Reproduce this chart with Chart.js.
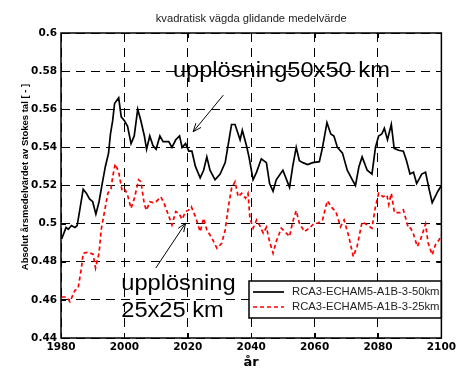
<!DOCTYPE html>
<html>
<head>
<meta charset="utf-8">
<script src="https://cdn.jsdelivr.net/npm/chart.js@4/dist/chart.umd.min.js"></script>
<style>
  html, body { margin: 0; padding: 0; background: #fff; }
  #wrap { width: 459px; height: 369px; }
</style>
</head>
<body>
<div id="wrap"><canvas id="myChart" width="459" height="369"></canvas></div>
<script>
// data
const years50 = [1980.2,1981.6,1982.3,1983.3,1984.4,1985.1,1985.9,1987.0,1988.0,1989.0,1990.0,1991.0,1992.0,1993.0,1994.0,1995.0,1995.6,1996.3,1996.9,1998.2,1999.0,2000.0,2001.0,2002.1,2003.1,2004.2,2005.2,2006.3,2007.0,2008.0,2009.0,2010.0,2011.2,2012.2,2014.0,2015.0,2016.2,2017.4,2018.2,2019.3,2020.3,2021.3,2022.4,2023.9,2025.0,2026.0,2027.0,2028.6,2030.2,2031.8,2032.8,2033.8,2034.9,2036.5,2037.2,2038.5,2039.3,2040.6,2041.7,2043.2,2044.8,2045.8,2046.9,2047.9,2050.0,2052.1,2053.1,2054.2,2055.2,2056.3,2057.8,2059.4,2061.5,2062.5,2063.9,2065.1,2066.1,2067.2,2068.8,2070.3,2071.9,2072.9,2074.0,2075.0,2076.6,2078.1,2079.2,2080.2,2081.2,2082.0,2083.0,2084.2,2085.1,2086.5,2088.0,2089.0,2090.1,2091.2,2092.2,2093.8,2095.0,2096.0,2097.1,2098.9,2100.0];
const values50 = [0.492,0.498,0.497,0.499,0.498,0.499,0.507,0.518,0.516,0.513,0.5115,0.505,0.5115,0.521,0.530,0.537,0.547,0.554,0.563,0.566,0.556,0.554,0.551,0.542,0.546,0.560,0.554,0.546,0.539,0.546,0.541,0.539,0.546,0.543,0.543,0.540,0.544,0.546,0.540,0.542,0.538,0.538,0.530,0.524,0.528,0.535,0.528,0.523,0.526,0.532,0.542,0.552,0.552,0.544,0.549,0.541,0.535,0.523,0.527,0.534,0.532,0.521,0.517,0.523,0.528,0.519,0.530,0.540,0.533,0.532,0.531,0.532,0.5325,0.540,0.553,0.547,0.546,0.540,0.537,0.528,0.523,0.520,0.530,0.535,0.528,0.526,0.540,0.546,0.547,0.550,0.544,0.552,0.5395,0.5385,0.538,0.533,0.526,0.527,0.521,0.526,0.527,0.519,0.511,0.517,0.520];

const years25 = [1980.2,1981.8,1982.8,1984.4,1985.4,1986.5,1987.0,1988.5,1990.1,1990.9,1992.0,1992.7,1993.8,1994.8,1995.8,1996.3,1997.1,1998.2,1999.3,2000.3,2001.0,2002.1,2003.1,2004.5,2005.2,2006.3,2007.0,2008.0,2009.0,2010.0,2011.5,2012.5,2013.5,2015.0,2016.2,2017.2,2018.2,2019.3,2020.3,2021.1,2022.4,2023.9,2025.0,2026.0,2027.6,2029.2,2030.7,2031.8,2032.8,2033.8,2034.9,2035.9,2037.0,2038.2,2039.0,2039.6,2040.6,2041.7,2042.7,2043.8,2044.8,2045.8,2046.9,2047.9,2049.5,2050.5,2052.1,2053.1,2054.2,2055.2,2056.8,2058.3,2059.9,2061.0,2062.5,2064.0,2065.6,2066.7,2068.2,2069.3,2070.8,2072.2,2073.4,2075.0,2076.6,2078.1,2079.2,2080.2,2081.6,2082.8,2083.4,2084.2,2085.2,2087.0,2088.0,2089.6,2090.3,2091.1,2092.4,2093.4,2095.0,2095.8,2097.1,2098.1,2099.3,2100.0];
const values25 = [0.4615,0.4615,0.459,0.465,0.466,0.4775,0.4845,0.485,0.484,0.4767,0.4845,0.497,0.507,0.516,0.5185,0.5246,0.5313,0.527,0.517,0.5176,0.515,0.508,0.513,0.523,0.522,0.510,0.507,0.5115,0.511,0.5115,0.514,0.5107,0.5063,0.4993,0.5063,0.5054,0.5023,0.5063,0.5072,0.5089,0.5037,0.4958,0.5028,0.4967,0.4924,0.4871,0.4897,0.4967,0.5089,0.5185,0.522,0.5141,0.5159,0.5133,0.5159,0.5028,0.4976,0.5019,0.499,0.495,0.4981,0.4906,0.4845,0.4906,0.4976,0.496,0.4932,0.501,0.5068,0.5002,0.4958,0.4976,0.5002,0.5002,0.5019,0.512,0.5081,0.5063,0.4984,0.5019,0.4932,0.4827,0.488,0.501,0.4993,0.4976,0.5089,0.5159,0.5141,0.515,0.510,0.5159,0.5058,0.5058,0.5072,0.4976,0.4976,0.495,0.488,0.4915,0.4998,0.490,0.4836,0.4889,0.4915,0.4941];

const seriesLabels = ['RCA3-ECHAM5-A1B-3-50km', 'RCA3-ECHAM5-A1B-3-25km'];
const xTicks = [1980, 2000, 2020, 2040, 2060, 2080, 2100];
const yTicks = [0.44, 0.46, 0.48, 0.5, 0.52, 0.54, 0.56, 0.58, 0.6];
const yTickLabels = ['0.44', '0.46', '0.48', '0.5', '0.52', '0.54', '0.56', '0.58', '0.6'];

const titleText = 'kvadratisk vägda glidande medelvärde';
const xTitle = 'år';
const yTitle = 'Absolut årsmedelvärdet av Stokes tal [ - ]';

// annotations, in data units: [year, value]
const note50 = { text: ['upplösning50x50 km'], at: [2015.3, 0.5767], from: [2031.2, 0.5674], to: [2021.7, 0.5482] };
const note25 = { text: ['upplösning', '25x25 km'], at: [1999.0, 0.4653], from: [2009.9, 0.4767], to: [2019.3, 0.5002] };

function toPoints(xs, ys) {
  return xs.map((x, i) => ({ x: x, y: ys[i] }));
}

function arrow(ctx, x1, y1, x2, y2) {
  const a = Math.atan2(y2 - y1, x2 - x1);
  const len = 9, spread = 0.38;
  ctx.beginPath();
  ctx.moveTo(x1, y1);
  ctx.lineTo(x2, y2);
  ctx.moveTo(x2 - len * Math.cos(a - spread), y2 - len * Math.sin(a - spread));
  ctx.lineTo(x2, y2);
  ctx.lineTo(x2 - len * Math.cos(a + spread), y2 - len * Math.sin(a + spread));
  ctx.stroke();
}

const extras = {
  id: 'extras',
  afterDraw(chart) {
    const ctx = chart.ctx;
    const ca = chart.chartArea;
    const xs = chart.scales.x, ys = chart.scales.y;
    ctx.save();

    // inside tick marks on all four sides
    ctx.strokeStyle = '#000';
    ctx.lineWidth = 1;
    ctx.beginPath();
    xTicks.forEach(t => {
      const px = Math.round(xs.getPixelForValue(t)) + 0.5;
      ctx.moveTo(px, ca.bottom); ctx.lineTo(px, ca.bottom - 5);
      ctx.moveTo(px, ca.top); ctx.lineTo(px, ca.top + 5);
    });
    yTicks.forEach(t => {
      const py = Math.round(ys.getPixelForValue(t)) + 0.5;
      ctx.moveTo(ca.left, py); ctx.lineTo(ca.left + 5, py);
      ctx.moveTo(ca.right, py); ctx.lineTo(ca.right - 5, py);
    });
    ctx.stroke();

    // annotations
    ctx.fillStyle = '#000';
    ctx.font = '22px "Liberation Sans", Arial, sans-serif';
    ctx.textAlign = 'left';
    ctx.textBaseline = 'alphabetic';
    [note50, note25].forEach(n => {
      const tx = xs.getPixelForValue(n.at[0]);
      const ty = ys.getPixelForValue(n.at[1]);
      n.text.forEach((line, i) => {
        ctx.save();
        ctx.translate(tx, ty + i * 27);
        ctx.scale(1.075, 1);
        ctx.fillText(line, 0, 0);
        ctx.restore();
      });
      ctx.lineWidth = 1;
      arrow(ctx, xs.getPixelForValue(n.from[0]), ys.getPixelForValue(n.from[1]),
                 xs.getPixelForValue(n.to[0]), ys.getPixelForValue(n.to[1]));
    });

    // legend box inside the plot
    const lx = 249, ly = 281, lw = ca.right - 249, lh = 37;
    ctx.fillStyle = '#fff';
    ctx.fillRect(lx, ly, lw, lh);
    ctx.lineWidth = 1.5;
    ctx.strokeStyle = '#000';
    ctx.strokeRect(lx, ly, lw, lh);
    ctx.font = '11.3px "Liberation Sans", Arial, sans-serif';
    ctx.textBaseline = 'middle';
    chart.data.datasets.forEach((ds, i) => {
      const y = ly + 11 + i * 15;
      ctx.strokeStyle = ds.borderColor;
      ctx.lineWidth = ds.borderWidth;
      ctx.setLineDash(ds.borderDash || []);
      ctx.beginPath();
      ctx.moveTo(lx + 4, y); ctx.lineTo(lx + 35, y);
      ctx.stroke();
      ctx.setLineDash([]);
      ctx.fillStyle = '#222';
      ctx.fillText(ds.label, lx + 43, y);
    });

    // axes box
    ctx.strokeStyle = '#000';
    ctx.lineWidth = 1.5;
    ctx.strokeRect(ca.left, ca.top, ca.right - ca.left, ca.bottom - ca.top);

    // title and axis titles
    ctx.fillStyle = '#222';
    ctx.textAlign = 'center';
    ctx.textBaseline = 'alphabetic';
    ctx.font = '11.2px "Liberation Sans", Arial, sans-serif';
    ctx.fillText(titleText, (ca.left + ca.right) / 2, 22);
    ctx.fillStyle = '#000';
    ctx.font = 'bold 13px "DejaVu Sans", sans-serif';
    ctx.fillText(xTitle, (ca.left + ca.right) / 2, 366);
    ctx.save();
    ctx.translate(28, 177);
    ctx.rotate(-Math.PI / 2);
    ctx.font = 'bold 9.5px "Liberation Sans", Arial, sans-serif';
    ctx.fillText(yTitle, 0, 0);
    ctx.restore();

    ctx.restore();
  }
};

const ctx = document.getElementById('myChart').getContext('2d');
const myChart = new Chart(ctx, {
  type: 'line',
  data: {
    datasets: [{
      label: seriesLabels[0],
      data: toPoints(years50, values50),
      borderColor: '#000',
      borderWidth: 1.7,
      pointRadius: 0,
      tension: 0
    }, {
      label: seriesLabels[1],
      data: toPoints(years25, values25),
      borderColor: '#ff0000',
      borderWidth: 1.7,
      borderDash: [4, 3],
      pointRadius: 0,
      tension: 0
    }]
  },
  options: {
    responsive: false,
    animation: false,
    layout: { padding: { top: 33, right: 14, bottom: 0, left: 0 } },
    plugins: {
      legend: { display: false },
      title: { display: false },
      tooltip: { enabled: false }
    },
    scales: {
      x: {
        type: 'linear',
        min: 1980,
        max: 2100,
        afterFit: s => { s.height = 31; },
        afterBuildTicks: s => { s.ticks = xTicks.map(v => ({ value: v })); },
        ticks: {
          padding: 3,
          color: '#000',
          font: { family: 'DejaVu Sans', weight: 'bold', size: 10.5 },
          callback: v => String(v),
          maxRotation: 0
        },
        grid: { color: '#000', lineWidth: 1, drawTicks: false },
        border: { display: false, dash: [9, 6] }
      },
      y: {
        min: 0.44,
        max: 0.6,
        afterFit: s => { s.width = 61; },
        afterBuildTicks: s => { s.ticks = yTicks.map(v => ({ value: v })); },
        ticks: {
          padding: 4,
          color: '#000',
          font: { family: 'DejaVu Sans', weight: 'bold', size: 10.5 },
          callback: v => yTickLabels[yTicks.findIndex(t => Math.abs(t - v) < 1e-9)]
        },
        grid: { color: '#000', lineWidth: 1, drawTicks: false },
        border: { display: false, dash: [9, 6] }
      }
    }
  },
  plugins: [extras]
});
</script>
</body>
</html>
